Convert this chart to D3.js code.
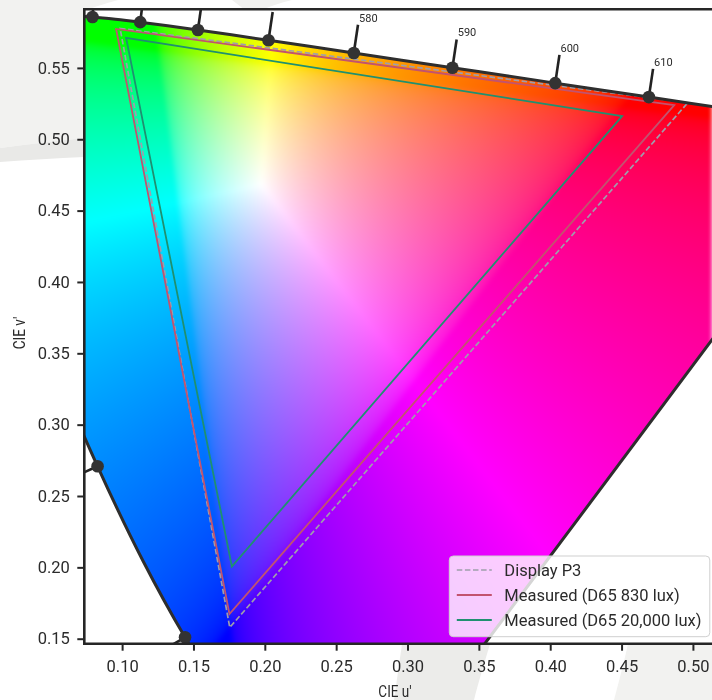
<!DOCTYPE html>
<html>
<head>
<meta charset="utf-8">
<script src="https://cdn.jsdelivr.net/npm/d3@7"></script>
<style>
  html, body { margin: 0; padding: 0; background: #ffffff; }
  #wrap { position: relative; width: 712px; height: 700px; overflow: hidden; }
  #wrap svg, #wrap canvas { position: absolute; left: 0; top: 0; }
  text { font-family: Roboto, "Noto Sans", sans-serif; fill: #2b2b2b; }
</style>
</head>
<body>
<div id="wrap">
  <svg id="bg" width="712" height="700"></svg>
  <canvas id="cv" width="712" height="700"></canvas>
  <svg id="fg" width="712" height="700"></svg>
</div>
<script>
// CIE 1931 2° spectral chromaticity coordinates, 5 nm steps
const wavelengths = [380,385,390,395,400,405,410,415,420,425,430,435,440,445,450,455,460,465,470,475,
  480,485,490,495,500,505,510,515,520,525,530,535,540,545,550,555,560,565,570,575,580,585,590,595,
  600,605,610,615,620,625,630,635,640,645,650,655,660,665,670,675,680,685,690,695,700];
const locusX = [0.17411,0.17401,0.17380,0.17356,0.17334,0.17302,0.17258,0.17209,0.17141,0.17030,
  0.16888,0.16690,0.16441,0.16110,0.15664,0.15099,0.14396,0.13550,0.12412,0.10959,
  0.09129,0.06871,0.04539,0.02346,0.00817,0.00386,0.01387,0.03885,0.07430,0.11416,
  0.15472,0.19288,0.22962,0.26578,0.30160,0.33736,0.37310,0.40874,0.44406,0.47877,
  0.51249,0.54479,0.57515,0.60293,0.62704,0.64823,0.66576,0.68008,0.69150,0.70061,
  0.70792,0.71403,0.71903,0.72303,0.72599,0.72827,0.72997,0.73109,0.73199,0.73272,
  0.73342,0.73405,0.73439,0.73459,0.73469];
const locusY = [0.00496,0.00498,0.00492,0.00492,0.00480,0.00478,0.00480,0.00483,0.00510,0.00579,
  0.00690,0.00856,0.01086,0.01379,0.01771,0.02274,0.02970,0.03988,0.05780,0.08684,
  0.13270,0.20072,0.29498,0.41270,0.53842,0.65482,0.75019,0.81202,0.83380,0.82621,
  0.80586,0.78163,0.75433,0.72432,0.69231,0.65885,0.62445,0.58961,0.55471,0.52020,
  0.48659,0.45443,0.42423,0.39650,0.37249,0.35139,0.33401,0.31975,0.30834,0.29930,
  0.29203,0.28593,0.28093,0.27695,0.27401,0.27173,0.27003,0.26891,0.26801,0.26728,
  0.26658,0.26595,0.26561,0.26541,0.26531];

// Wavelengths marked along the locus
const labelWavelengths = [460,470,480,490,500,510,520,530,540,550,560,570,580,590,600,610,620,630,640];

// Display P3 primaries (CIE xy): R, G, B
const p3X = [0.680, 0.265, 0.150];
const p3Y = [0.320, 0.690, 0.060];

// Measured primaries in CIE u'v': R, G, B
const m830U = [0.4869, 0.0958, 0.1752];
const m830V = [0.5239, 0.5773, 0.1673];
const m20kU = [0.4504, 0.1028, 0.1769];
const m20kV = [0.5162, 0.5710, 0.2006];

const seriesNames = ["Display P3", "Measured (D65 830 lux)", "Measured (D65 20,000 lux)"];

const xTicks = [0.10, 0.15, 0.20, 0.25, 0.30, 0.35, 0.40, 0.45, 0.50];
const yTicks = [0.15, 0.20, 0.25, 0.30, 0.35, 0.40, 0.45, 0.50, 0.55];

// ---- helpers ----
function xyToUV(x, y) {
  const d = -2 * x + 12 * y + 3;
  return [4 * x / d, 9 * y / d];
}

// ---- layout ----
const W = 712, H = 700;
const plot = { left: 84.3, top: 9.3, bottom: 643.7, right: 760 };
const k = 1427;                 // pixels per chromaticity unit (equal aspect)
const uMin = 0.0735, vMin = 0.1465;
const uMax = uMin + (plot.right - plot.left) / k;
const vMax = vMin + (plot.bottom - plot.top) / k;

const x = d3.scaleLinear().domain([uMin, uMax]).range([plot.left, plot.right]);
const y = d3.scaleLinear().domain([vMin, vMax]).range([plot.bottom, plot.top]);

const locus = wavelengths.map((w, i) => {
  const [u, v] = xyToUV(locusX[i], locusY[i]);
  return { w, u, v };
});
const locusLine = d3.line().x(d => x(d.u)).y(d => y(d.v)).curve(d3.curveCatmullRom);

// ---- page background ----
const bg = d3.select("#bg");
bg.append("rect").attr("width", W).attr("height", H).attr("fill", "#ffffff");
bg.append("path").attr("fill", "#f2f2f0")
  .attr("d", "M0,0 L118,0 C104,4 94,7 84,11 L84,138 C56,141 28,144 0,148 Z");
bg.append("path").attr("fill", "#e9e9e7")
  .attr("d", "M0,148 C28,144 56,141 84,138 L84,157 C56,158 28,160 0,162 Z");
bg.append("path").attr("fill", "#f1f1ef")
  .attr("d", "M232,0 L292,0 C280,3 270,6 262,10 L245,10 Z");
bg.append("path").attr("fill", "#ececea")
  .attr("d", "M402,644 L490,644 C484,664 478,684 474,700 L394,700 Z");
bg.append("path").attr("fill", "#f2f2f0")
  .attr("d", "M628,644 L712,644 L712,700 L614,700 C619,681 624,662 628,644 Z");
// axes face
bg.append("rect")
  .attr("x", plot.left).attr("y", plot.top)
  .attr("width", plot.right - plot.left).attr("height", plot.bottom - plot.top)
  .attr("fill", "#ffffff");

// ---- chromaticity colours inside the spectral locus ----
function uvToRGB(u, v) {
  const d = 6 * u - 16 * v + 12;
  const cx = 9 * u / d, cy = 4 * v / d;
  const X = cx / cy, Y = 1, Z = (1 - cx - cy) / cy;
  const lin = [
    3.2404542 * X - 1.5371385 * Y - 0.4985314 * Z,
   -0.9692660 * X + 1.8760108 * Y + 0.0415560 * Z,
    0.0556434 * X - 0.2040259 * Y + 1.0572252 * Z
  ];
  const enc = lin.map(c => c <= 0.0031308 ? 12.92 * c : 1.055 * Math.pow(c, 1 / 2.4) - 0.055);
  const m = Math.max(enc[0], enc[1], enc[2]);
  if (!(m > 0)) return [0, 0, 0];
  return enc.map(c => Math.max(0, Math.min(1, c / m)));
}

const cv = document.getElementById("cv");
const ctx = cv.getContext("2d");
const off = document.createElement("canvas");
off.width = W; off.height = H;
const octx = off.getContext("2d");
const img = octx.createImageData(W, H);
for (let py = 0; py < H; py++) {
  const v = y.invert(py + 0.5);
  for (let px = 0; px < W; px++) {
    const u = x.invert(px + 0.5);
    const rgb = uvToRGB(u, v);
    const idx = (py * W + px) * 4;
    img.data[idx] = Math.round(rgb[0] * 255);
    img.data[idx + 1] = Math.round(rgb[1] * 255);
    img.data[idx + 2] = Math.round(rgb[2] * 255);
    img.data[idx + 3] = 255;
  }
}
octx.putImageData(img, 0, 0);

ctx.save();
ctx.beginPath();
ctx.rect(plot.left, plot.top, plot.right - plot.left, plot.bottom - plot.top);
ctx.clip();
ctx.beginPath();
locusLine.context(ctx)(locus);
ctx.closePath();
ctx.clip();
ctx.filter = "blur(2px)";
ctx.drawImage(off, 0, 0);
ctx.restore();
locusLine.context(null);

// ---- foreground ----
const fg = d3.select("#fg");
fg.append("defs").append("clipPath").attr("id", "plotClip")
  .append("rect")
  .attr("x", plot.left).attr("y", plot.top)
  .attr("width", plot.right - plot.left).attr("height", plot.bottom - plot.top);

const g = fg.append("g").attr("clip-path", "url(#plotClip)");

// gamut triangles
const triLine = d3.line().x(d => x(d[0])).y(d => y(d[1]));
const p3UV = p3X.map((px, i) => xyToUV(px, p3Y[i]));
const m830UV = m830U.map((u, i) => [u, m830V[i]]);
const m20kUV = m20kU.map((u, i) => [u, m20kV[i]]);

const styles = [
  { stroke: "#9e9eac", width: 1.7, dash: "5.5,2.6" },
  { stroke: "#c2536f", width: 1.8, dash: null },
  { stroke: "#1f9070", width: 1.8, dash: null }
];
[p3UV, m830UV, m20kUV].forEach((pts, i) => {
  g.append("path")
    .attr("d", triLine(pts) + "Z")
    .attr("fill", "none")
    .attr("stroke", styles[i].stroke)
    .attr("stroke-width", styles[i].width)
    .attr("stroke-dasharray", styles[i].dash)
    .attr("stroke-linejoin", "miter");
});

// spectral locus outline (closed with the purple line)
g.append("path")
  .attr("d", locusLine(locus) + "Z")
  .attr("fill", "none")
  .attr("stroke", "#2e2e2e")
  .attr("stroke-width", 3)
  .attr("stroke-linejoin", "round");

// wavelength ticks, dots and labels
const tickLen = 0.02, labelDist = 0.025;
const byW = new Map(locus.map((d, i) => [d.w, i]));
labelWavelengths.forEach(w => {
  const i = byW.get(w);
  const a = locus[Math.max(0, i - 1)], b = locus[Math.min(locus.length - 1, i + 1)];
  const du = b.u - a.u, dv = b.v - a.v;
  const n = Math.hypot(du, dv);
  const nu = -dv / n, nv = du / n;   // outward normal
  const p = locus[i];
  g.append("line")
    .attr("x1", x(p.u)).attr("y1", y(p.v))
    .attr("x2", x(p.u + nu * tickLen)).attr("y2", y(p.v + nv * tickLen))
    .attr("stroke", "#222").attr("stroke-width", 2.6);
  g.append("circle")
    .attr("cx", x(p.u)).attr("cy", y(p.v)).attr("r", 6.3)
    .attr("fill", "#333");
  g.append("text")
    .attr("x", x(p.u + nu * labelDist)).attr("y", y(p.v + nv * labelDist))
    .attr("dy", "0.35em")
    .attr("text-anchor", nu >= 0 ? "start" : "end")
    .attr("font-size", 11)
    .text(w);
});

// spines
fg.append("path")
  .attr("d", `M${plot.right},${plot.top} H${plot.left} V${plot.bottom} H${plot.right}`)
  .attr("fill", "none").attr("stroke", "#262626").attr("stroke-width", 2.6);

// axes
const fmt = d3.format(".2f");
const xAxis = fg.append("g").attr("transform", `translate(0,${plot.bottom})`)
  .call(d3.axisBottom(x).tickValues(xTicks).tickFormat(fmt).tickSize(7).tickSizeOuter(0).tickPadding(9.5));
const yAxis = fg.append("g").attr("transform", `translate(${plot.left},0)`)
  .call(d3.axisLeft(y).tickValues(yTicks).tickFormat(fmt).tickSize(7).tickSizeOuter(0).tickPadding(7.5));
[xAxis, yAxis].forEach(ax => {
  ax.select(".domain").remove();
  ax.selectAll(".tick line").attr("stroke", "#262626").attr("stroke-width", 2);
  ax.selectAll(".tick text")
    .attr("font-family", "Roboto, 'Noto Sans', sans-serif")
    .attr("font-size", 16.5).attr("fill", "#2b2b2b");
});

// axis titles
fg.append("text")
  .attr("transform", "translate(395,697) scale(0.82,1)")
  .attr("text-anchor", "middle")
  .attr("font-size", 16.5)
  .text("CIE u\u2032");
fg.append("text")
  .attr("transform", "translate(25,333) rotate(-90) scale(0.82,1)")
  .attr("text-anchor", "middle")
  .attr("font-size", 16.5)
  .text("CIE v\u2032");

// legend
const lg = fg.append("g").attr("transform", "translate(449.3,556)");
lg.append("rect")
  .attr("width", 260.5).attr("height", 80.7).attr("rx", 4)
  .attr("fill", "#ffffff").attr("fill-opacity", 0.8)
  .attr("stroke", "#cfcfcf").attr("stroke-width", 1);
seriesNames.forEach((name, i) => {
  const cy = 14 + i * 25;
  lg.append("line")
    .attr("x1", 7.5).attr("x2", 42.5).attr("y1", cy).attr("y2", cy)
    .attr("stroke", styles[i].stroke)
    .attr("stroke-width", styles[i].width)
    .attr("stroke-dasharray", styles[i].dash);
  lg.append("text")
    .attr("x", 55).attr("y", cy).attr("dy", "0.35em")
    .attr("font-size", 16.5)
    .text(name);
});
</script>
</body>
</html>
